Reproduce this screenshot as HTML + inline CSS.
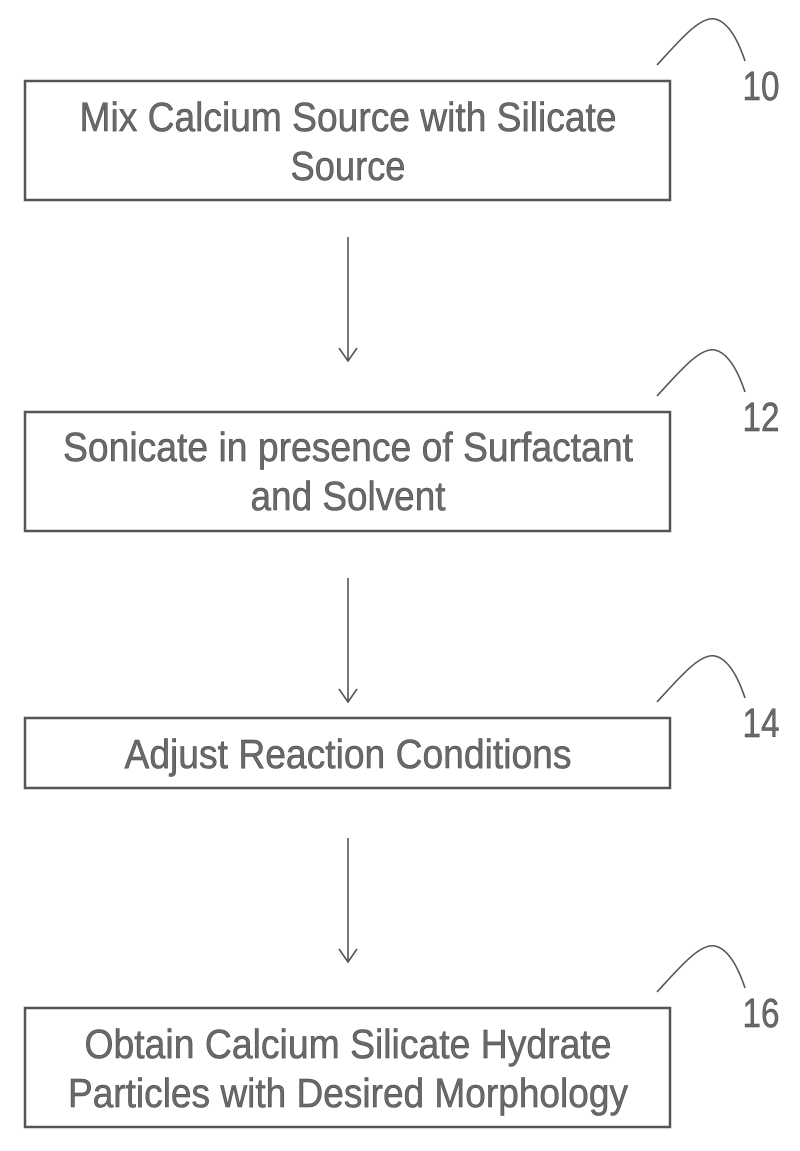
<!DOCTYPE html>
<html><head><style>
body{margin:0;background:#fff;}
svg{display:block}
text{font-family:"Liberation Sans",sans-serif;fill:#6a6a6a;stroke:#444;stroke-width:0.5;}
</style></head><body>
<svg width="800" height="1151" viewBox="0 0 800 1151">
<g fill="none" stroke="#555" stroke-width="2.5">
<rect x="25" y="81" width="645" height="119"/>
<rect x="25" y="412" width="645" height="119"/>
<rect x="25" y="718" width="645" height="70"/>
<rect x="25" y="1008" width="645" height="119"/>
</g>
<g fill="none" stroke="#555" stroke-width="1.6">
<line x1="348" y1="237" x2="348" y2="360"/><polyline points="339,348 348,361 357,348"/>
<line x1="348" y1="578" x2="348" y2="701"/><polyline points="339,689 348,702 357,689"/>
<line x1="348" y1="838" x2="348" y2="961"/><polyline points="339,949 348,962 357,949"/>
<path d="M657,65 C680,40 700,16 715,19 C728,22 738,40 745,61"/>
<path d="M657,396 C680,371 700,347 715,350 C728,353 738,371 745,392"/>
<path d="M657,702 C680,677 700,653 715,656 C728,659 738,677 745,698"/>
<path d="M657,992 C680,967 700,943 715,946 C728,949 738,967 745,988"/>
</g>
<g font-size="41" text-anchor="middle" lengthAdjust="spacingAndGlyphs">
<text x="348" y="131" textLength="537" lengthAdjust="spacingAndGlyphs">Mix Calcium Source with Silicate</text>
<text x="348" y="180" textLength="115" lengthAdjust="spacingAndGlyphs">Source</text>
<text x="348" y="461" textLength="570" lengthAdjust="spacingAndGlyphs">Sonicate in presence of Surfactant</text>
<text x="348" y="510" textLength="195" lengthAdjust="spacingAndGlyphs">and Solvent</text>
<text x="348" y="768" textLength="447" lengthAdjust="spacingAndGlyphs">Adjust Reaction Conditions</text>
<text x="348" y="1058" textLength="527" lengthAdjust="spacingAndGlyphs">Obtain Calcium Silicate Hydrate</text>
<text x="348" y="1107" textLength="560" lengthAdjust="spacingAndGlyphs">Particles with Desired Morphology</text>
<text x="761" y="100" textLength="37" lengthAdjust="spacingAndGlyphs">10</text>
<text x="761" y="431" textLength="37" lengthAdjust="spacingAndGlyphs">12</text>
<text x="761" y="737" textLength="37" lengthAdjust="spacingAndGlyphs">14</text>
<text x="761" y="1027" textLength="37" lengthAdjust="spacingAndGlyphs">16</text>
</g>
</svg>
</body></html>
